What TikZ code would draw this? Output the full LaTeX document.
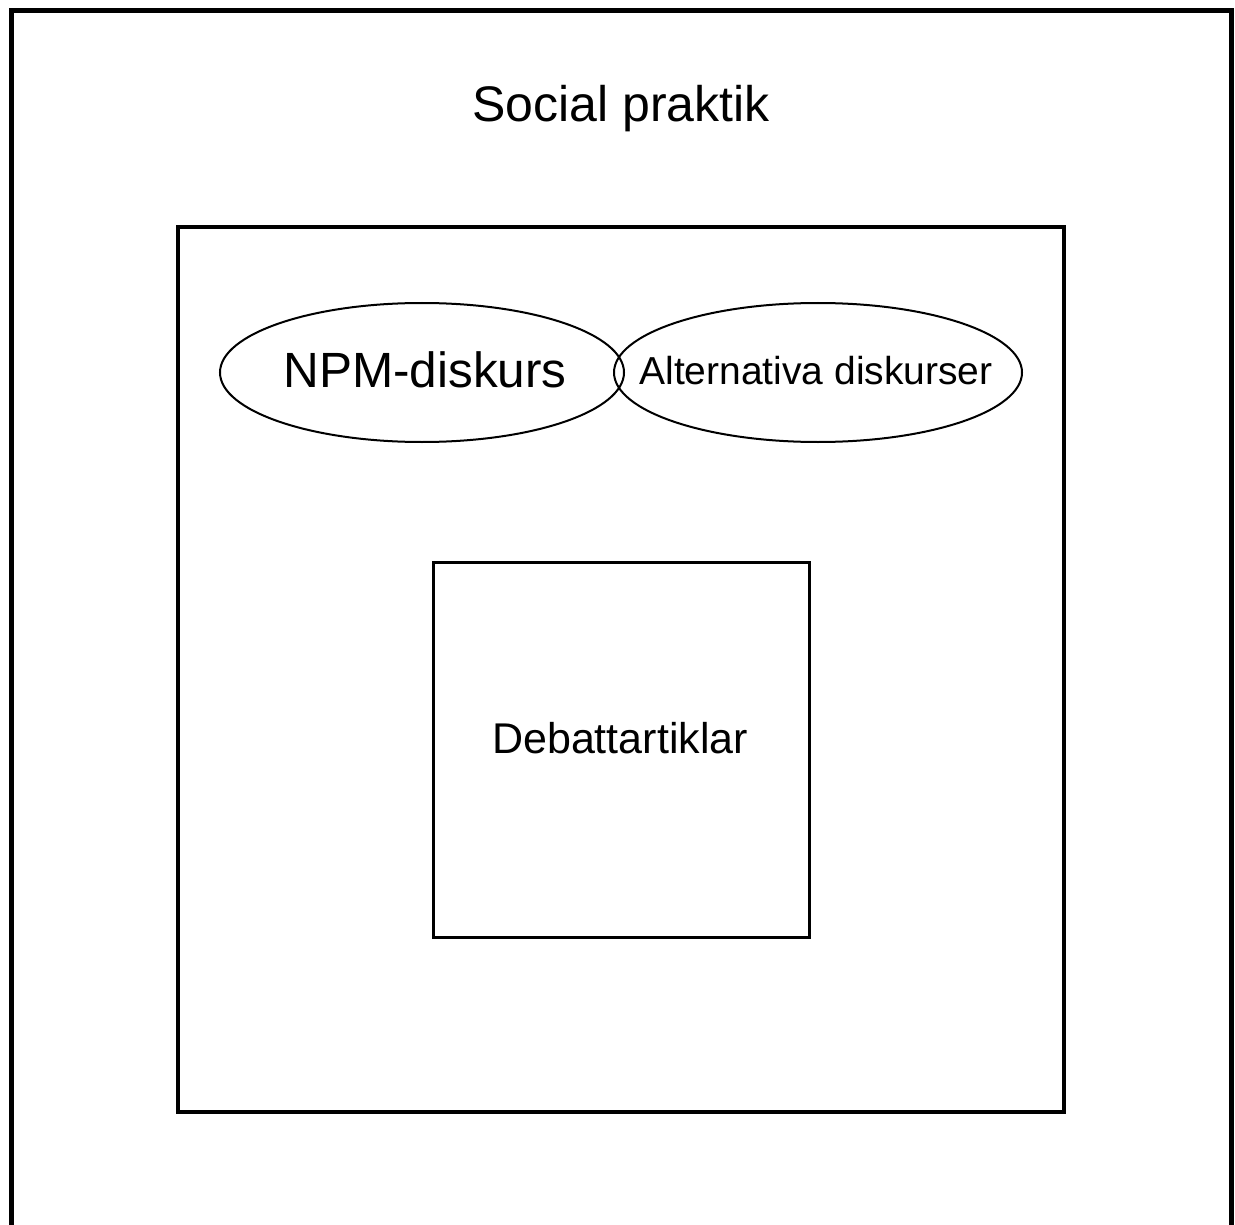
\documentclass[tikz,border=0pt]{standalone}
\usepackage{fontspec}
\setmainfont{Liberation Sans}
\usetikzlibrary{shapes.geometric}
\begin{document}
\begin{tikzpicture}[x=1pt,y=-1pt,
  frame/.style={draw=black, line width=5pt},
  boxstyle/.style={draw=black, line width=3.5pt, inner sep=0pt},
  ell/.style={draw=black, line width=2pt, ellipse, inner sep=0pt},
  lbl/.style={inner sep=0pt, anchor=base}]
\useasboundingbox[fill=white] (0,0) rectangle (1235,1225);
\draw[frame] (11.5,1260) -- (11.5,10.5) -- (1231,10.5) -- (1231,1260);
\node[lbl, font=\fontsize{50}{60}\selectfont] (title) at (621,122) {Social praktik};
\node[boxstyle, minimum width=886pt, minimum height=885pt] (mid) at (621,669.5) {};
\node[ell, minimum width=404pt, minimum height=139pt] (npm) at (422,372.5) {};
\node[ell, minimum width=408pt, minimum height=139pt] (alt) at (818,372.5) {};
\node[lbl, font=\fontsize{49.5}{60}\selectfont] (npmt) at (425,387) {NPM-diskurs};
\node[lbl, font=\fontsize{39}{48}\selectfont] (altt) at (816,384) {Alternativa diskurser};
\node[boxstyle, line width=3pt, minimum width=376pt, minimum height=375pt] (deb) at (621,749.5) {};
\node[lbl, font=\fontsize{43}{52}\selectfont] (debt) at (620,753) {Debattartiklar};
\end{tikzpicture}
\end{document}
